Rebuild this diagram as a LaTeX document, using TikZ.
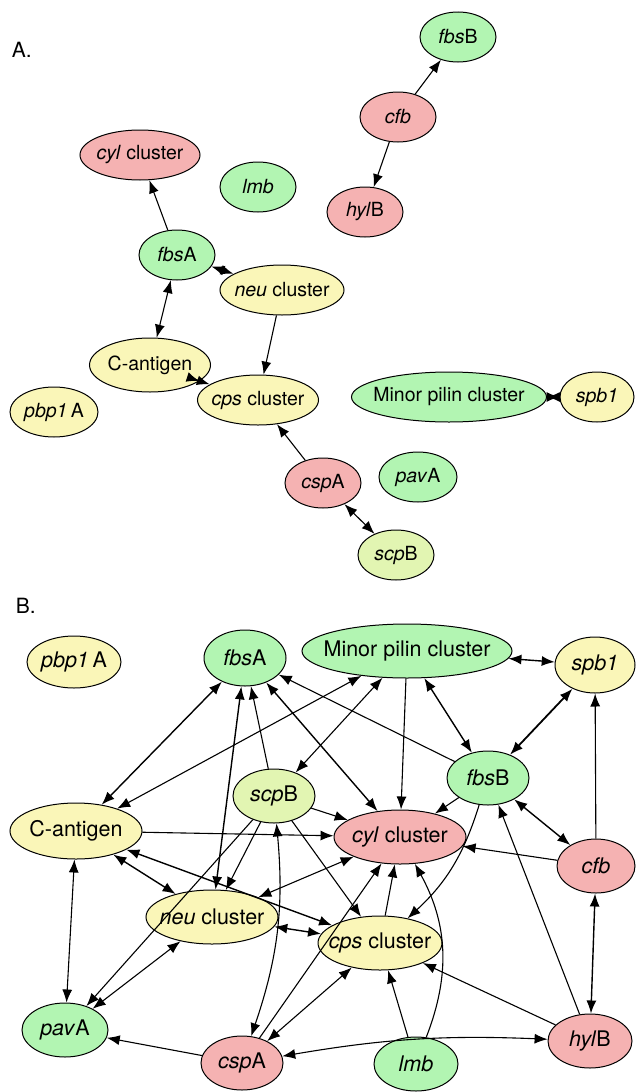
\documentclass[tikz,border=0pt]{standalone}
\usepackage{fontspec}
\setmainfont{TeX Gyre Heros}
\usetikzlibrary{shapes.geometric,arrows.meta}
\definecolor{genegreen}{RGB}{178,245,178}
\definecolor{genered}{RGB}{245,178,178}
\definecolor{geneyellow}{RGB}{250,246,184}
\definecolor{genelime}{RGB}{226,245,178}
\newcommand{\gn}[1]{\makebox[0pt]{#1}}
\tikzset{
  gene/.style={ellipse,draw,line width=1pt,inner sep=0pt,minimum width=76pt,minimum height=50pt},
  ggreen/.style={gene,fill=genegreen},
  gred/.style={gene,fill=genered},
  gyellow/.style={gene,fill=geneyellow},
  glime/.style={gene,fill=genelime},
  bgene/.style={minimum width=82pt,minimum height=54pt}
}
\begin{document}
\begin{tikzpicture}[x=1pt,y=-1pt,>={Latex[length=13pt,width=10pt]},line width=1.1pt]
    \useasboundingbox (0,0) rectangle (635,1092);
    \begin{scope}[font=\fontsize{19.5}{22}\selectfont]
      \node[anchor=west,font=\fontsize{21}{24}\selectfont] (a-label) at (8,50) {A.};
      \node[ggreen] (a-fbsB) at (458,37) {\gn{\textit{fbs}B}};
      \node[gred] (a-cfb) at (398,117) {\gn{\textit{cfb}}};
      \node[gred] (a-hylB) at (365,212) {\gn{\textit{hyl}B}};
      \node[gred,minimum width=120pt] (a-cyl) at (140,155) {\gn{\textit{cyl} cluster}};
      \node[ggreen] (a-lmb) at (258,187) {\gn{\textit{lmb}}};
      \node[ggreen] (a-fbsA) at (177,255) {\gn{\textit{fbs}A}};
      \node[gyellow,minimum width=124pt] (a-neu) at (282,290) {\gn{\textit{neu} cluster}};
      \node[gyellow,minimum width=121pt,minimum height=54pt] (a-cag) at (150,365) {\gn{C-antigen}};
      \node[gyellow,minimum width=121pt] (a-cps) at (258,400) {\gn{\textit{cps} cluster}};
      \node[gyellow,minimum width=88pt] (a-pbp) at (54,412) {\gn{\textit{pbp1}\,A}};
      \node[ggreen,minimum width=195pt] (a-minor) at (449,397) {\gn{Minor pilin cluster}};
      \node[gyellow,minimum width=74pt] (a-spb1) at (597,397) {\gn{\textit{spb1}}};
      \node[gred] (a-cspA) at (323,483) {\gn{\textit{csp}A}};
      \node[ggreen,minimum width=78pt] (a-pavA) at (418,477) {\gn{\textit{pav}A}};
      \node[glime] (a-scpB) at (396,555) {\gn{\textit{scp}B}};
      \draw[->] (a-cfb) -- (a-fbsB);
      \draw[->] (a-cfb) -- (a-hylB);
      \draw[->] (a-fbsA) -- (a-cyl);
      \draw[<->,line width=1.6pt] (a-fbsA) -- (a-neu);
      \draw[<->] (a-fbsA) -- (a-cag);
      \draw[->] (a-neu) -- (a-cps);
      \draw[<->,line width=1.6pt] (a-cag) -- (a-cps);
      \draw[->] (a-cspA) -- (a-cps);
      \draw[<->] (a-cspA) -- (a-scpB);
      \draw[<->,line width=1.6pt] (a-minor) -- (a-spb1);
    \end{scope}
    \begin{scope}[font=\fontsize{21.5}{25}\selectfont]
      \node[anchor=west,font=\fontsize{21}{24}\selectfont] (b-label) at (12,606) {B.};
      \node[gyellow,bgene,minimum width=94pt,minimum height=52pt] (b-pbp) at (74,662) {\gn{\textit{pbp1}\,A}};
      \node[ggreen,bgene,minimum height=56pt] (b-fbsA) at (245,658) {\gn{\textit{fbs}A}};
      \node[ggreen,bgene,minimum width=210pt] (b-minor) at (407,651) {\gn{Minor pilin cluster}};
      \node[gyellow,bgene,minimum width=80pt,minimum height=56pt] (b-spb1) at (595,665) {\gn{\textit{spb1}}};
      \node[ggreen,bgene] (b-fbsB) at (488,778) {\gn{\textit{fbs}B}};
      \node[glime,bgene] (b-scpB) at (274,796) {\gn{\textit{scp}B}};
      \node[gyellow,bgene,minimum width=132pt,minimum height=56pt] (b-cag) at (76,831) {\gn{C-antigen}};
      \node[gred,bgene,minimum width=132pt] (b-cyl) at (400,837) {\gn{\textit{cyl} cluster}};
      \node[gred,bgene,minimum width=78pt] (b-cfb) at (596,866) {\gn{\textit{cfb}}};
      \node[gyellow,bgene,minimum width=132pt] (b-neu) at (212,917) {\gn{\textit{neu} cluster}};
      \node[gyellow,bgene,minimum width=124pt] (b-cps) at (380,943) {\gn{\textit{cps} cluster}};
      \node[ggreen,bgene,minimum width=86pt] (b-pavA) at (65,1030) {\gn{\textit{pav}A}};
      \node[gred,bgene] (b-cspA) at (242,1063) {\gn{\textit{csp}A}};
      \node[ggreen,bgene,minimum width=84pt] (b-lmb) at (416,1064) {\gn{\textit{lmb}}};
      \node[gred,bgene,minimum width=84pt] (b-hylB) at (590,1041) {\gn{\textit{hyl}B}};
      \draw[<->,line width=1.4pt] (b-fbsA) -- (b-cag);
      \draw[<->] (b-minor) -- (b-cag);
      \draw[<->,line width=1.4pt] (b-fbsA) -- (b-neu);
      \draw[->] (b-scpB) -- (b-fbsA);
      \draw[<->,line width=1.4pt] (b-fbsA) -- (b-cyl);
      \draw[->] (b-fbsB) -- (b-fbsA);
      \draw[<->] (b-minor) -- (b-scpB);
      \draw[->] (b-minor) -- (b-cyl);
      \draw[<->,line width=1.4pt] (b-minor) -- (b-fbsB);
      \draw[<->,line width=1.4pt] (b-minor) -- (b-spb1);
      \draw[<->,line width=1.8pt] (b-spb1) -- (b-fbsB);
      \draw[->] (b-cfb) -- (b-spb1);
      \draw[->] (b-fbsB) -- (b-cyl);
      \draw[<->,line width=1.4pt] (b-fbsB) -- (b-cfb);
      \draw[->] (b-fbsB) to[bend left=15] (b-cps);
      \draw[->] (b-hylB) -- (b-fbsB);
      \draw[->] (b-cfb) -- (b-cyl);
      \draw[<->,line width=1.4pt] (b-cfb) -- (b-hylB);
      \draw[->] (b-hylB) -- (b-cps);
      \draw[<->] (b-cspA) to[bend left=6] (b-hylB);
      \draw[->] (b-lmb) -- (b-cps);
      \draw[->] (b-lmb) to[bend right=25] (b-cyl);
      \draw[->] (b-cps) -- (b-cyl);
      \draw[->] (b-cspA) -- (b-cyl);
      \draw[<->] (b-scpB) to[bend left=12] (b-cspA);
      \draw[<->] (b-cps) -- (b-cspA);
      \draw[<->,line width=1.4pt] (b-cag) -- (b-neu);
      \draw[<->,line width=1.4pt] (b-cag) -- (b-cps);
      \draw[->] (b-cag) -- (b-cyl);
      \draw[->] (b-scpB) -- (b-cyl);
      \draw[->] (b-scpB) -- (b-neu);
      \draw[->] (b-scpB) -- (b-cps);
      \draw[->] (b-scpB) -- (b-pavA);
      \draw[<->] (b-neu) -- (b-cyl);
      \draw[<->,line width=1.4pt] (b-neu) -- (b-cps);
      \draw[<->] (b-neu) -- (b-pavA);
      \draw[<->] (b-cag) -- (b-pavA);
      \draw[->] (b-cspA) -- (b-pavA);
    \end{scope}
  \end{tikzpicture}
\end{document}
